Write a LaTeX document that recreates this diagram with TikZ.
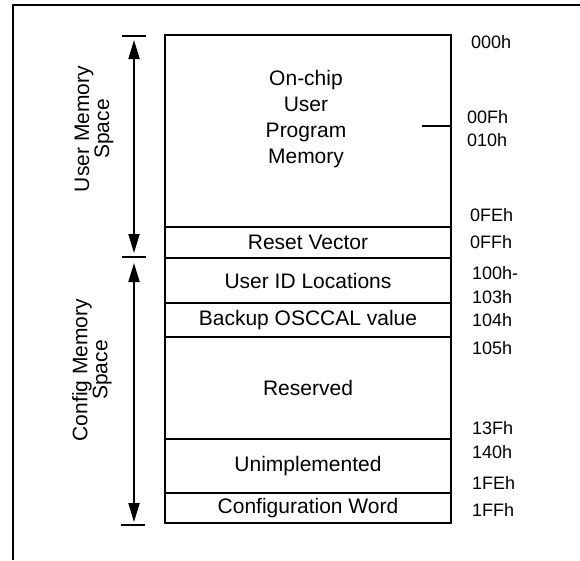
\documentclass[tikz,border=0pt]{standalone}
\usepackage{fontspec}
\setmainfont{Liberation Sans}
\usetikzlibrary{positioning,arrows.meta}
\tikzstyle{every node}=[font=\fontsize{21}{26}\selectfont]
\tikzstyle{region}=[draw,line width=1.8pt,minimum width=286pt,outer sep=0pt,inner sep=0pt]
\tikzstyle{addr}=[anchor=west,inner sep=0pt,font=\fontsize{18}{20}\selectfont]
\tikzstyle{spacelabel}=[rotate=90,align=center,inner sep=0pt,font=\fontsize{21}{20}\selectfont]
\tikzstyle{rangearrow}=[line width=1.8pt,{Triangle[length=19pt,width=11pt]}-{Triangle[length=19pt,width=11pt]}]
\tikzstyle{bar}=[line width=1.8pt]
\begin{document}
\begin{tikzpicture}[x=1pt,y=-1pt,node distance=0pt]
  \useasboundingbox (0,0) rectangle (580,560);
  \draw[bar] (580,5) -- (13,5) -- (13,560);
  % memory map
  \node[region,minimum height=192pt] (prog) at (308,131) {};
  \node[align=center] (progtxt) at (306,119) {On-chip\\User\\Program\\Memory};
  \node[region,minimum height=31pt,below=of prog] (reset) {Reset Vector};
  \node[region,minimum height=45pt,below=of reset] (userid) {User ID Locations};
  \node[region,minimum height=34pt,below=of userid] (backup) {Backup OSCCAL value};
  \node[region,minimum height=102pt,below=of backup] (reserved) {Reserved};
  \node[region,minimum height=54pt,below=of reserved] (unimpl) {Unimplemented};
  \node[region,minimum height=30pt,below=of unimpl] (config) {Configuration Word};
  \coordinate (ptick) at (422,126);
  \draw[bar] (ptick) -- (ptick -| prog.east);
  % addresses
  \node[addr] (a000) at (471,42) {000h};
  \node[addr] (a00F) at (467,117) {00Fh};
  \node[addr] (a010) at (467,140) {010h};
  \node[addr] (a0FE) at (470,215) {0FEh};
  \node[addr] (a0FF) at (470,242) {0FFh};
  \node[addr] (a100) at (472,273) {100h-};
  \node[addr] (a103) at (472,297) {103h};
  \node[addr] (a104) at (472,320) {104h};
  \node[addr] (a105) at (472,348) {105h};
  \node[addr] (a13F) at (472,428) {13Fh};
  \node[addr] (a140) at (472,452) {140h};
  \node[addr] (a1FE) at (472,483) {1FEh};
  \node[addr] (a1FF) at (472,510) {1FFh};
  % spaces
  \coordinate (umtop) at (134,36);
  \coordinate (split) at (134,257);
  \coordinate (cmbot) at (134,525);
  \draw[bar] ([xshift=-12pt]umtop) -- ([xshift=12pt]umtop);
  \draw[bar] ([xshift=-12pt]split) -- ([xshift=12pt]split);
  \draw[bar] ([xshift=-13pt]cmbot) -- ([xshift=11pt]cmbot);
  \draw[rangearrow,shorten <=4pt,shorten >=4pt] (umtop) -- (split);
  \draw[rangearrow,shorten <=6pt,shorten >=3pt] (split) -- (cmbot);
  \node[spacelabel] (umlabel) at (94,129) {User Memory\\Space};
  \node[spacelabel] (cmlabel) at (92,370) {Config Memory\\Space};
\end{tikzpicture}
\end{document}
